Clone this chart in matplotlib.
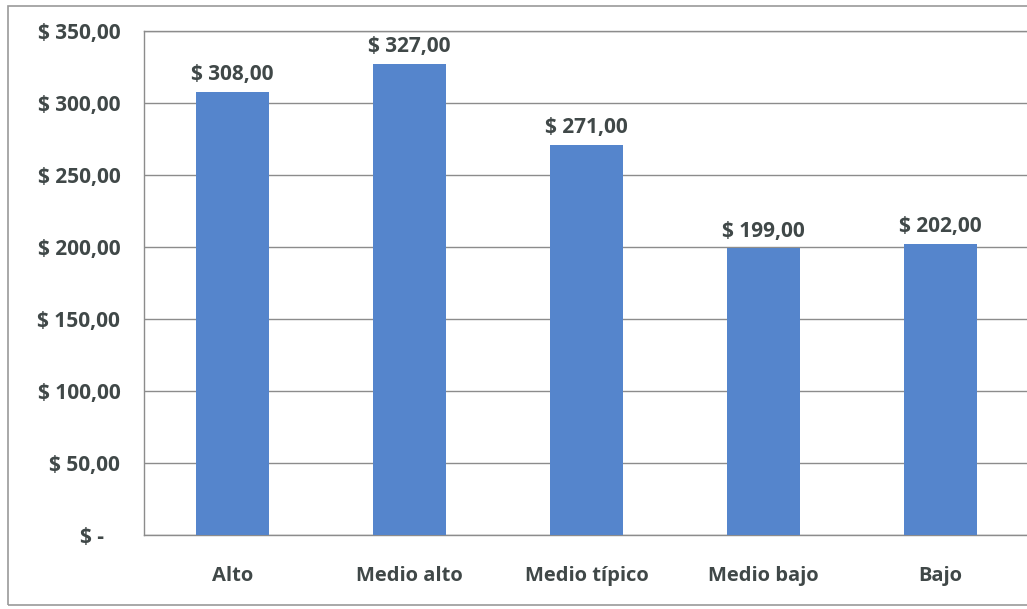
import matplotlib.pyplot as plt
from matplotlib.patches import Rectangle

# Precio promedio por nivel socioeconómico
categorias = ["Alto", "Medio alto", "Medio típico", "Medio bajo", "Bajo"]
precios = [308.00, 327.00, 271.00, 199.00, 202.00]
y_ticks = [0, 50, 100, 150, 200, 250, 300, 350]

BAR_COLOR = "#5585CC"
TEXT_COLOR = "#404848"
GRID_COLOR = "#8C8C8C"

plt.rcParams['font.family'] = ['Open Sans', 'DejaVu Sans']


def formato_moneda(v):
    # formato contable: "$ 1.234,00", cero como "$ -"
    if v == 0:
        return "$ -   "
    return "$ " + f"{v:,.2f}".replace(",", "X").replace(".", ",").replace("X", ".")


fig = plt.figure(figsize=(10.27, 6.09), dpi=100)
ax = fig.add_axes([0.1402, 0.1215, 0.862, 0.8275])

x = range(len(categorias))
ax.bar(x, precios, width=0.41, color=BAR_COLOR, zorder=3)

for xi, v in zip(x, precios):
    ax.annotate(formato_moneda(v), (xi, v), xytext=(0, 5), textcoords="offset points",
                ha="center", va="bottom", fontsize=15, fontweight="bold", color=TEXT_COLOR)

ax.set_xlim(-0.5, 4.5)
ax.set_ylim(0, 350)
ax.set_yticks(y_ticks)
ax.set_yticklabels([formato_moneda(t) for t in y_ticks])
ax.set_xticks(list(x))
ax.set_xticklabels(categorias)
ax.tick_params(axis="y", length=0, pad=17, labelsize=15, labelcolor=TEXT_COLOR)
ax.tick_params(axis="x", length=0, pad=22, labelsize=14.5, labelcolor=TEXT_COLOR)
for lbl in ax.get_xticklabels() + ax.get_yticklabels():
    lbl.set_fontweight("bold")

ax.yaxis.grid(True, color=GRID_COLOR, linewidth=1.0, zorder=0)
ax.set_axisbelow(True)
ax.spines["right"].set_visible(False)
for side in ["left", "top", "bottom"]:
    ax.spines[side].set_color(GRID_COLOR)
    ax.spines[side].set_linewidth(1.0)

# marco exterior del gráfico
fig.patches.append(Rectangle((8 / 1027, 4 / 609), 1.1, 1 - 10 / 609, transform=fig.transFigure,
                             fill=False, edgecolor="#9A9A9A", linewidth=1.2))

fig.savefig("out.png", dpi=100)
